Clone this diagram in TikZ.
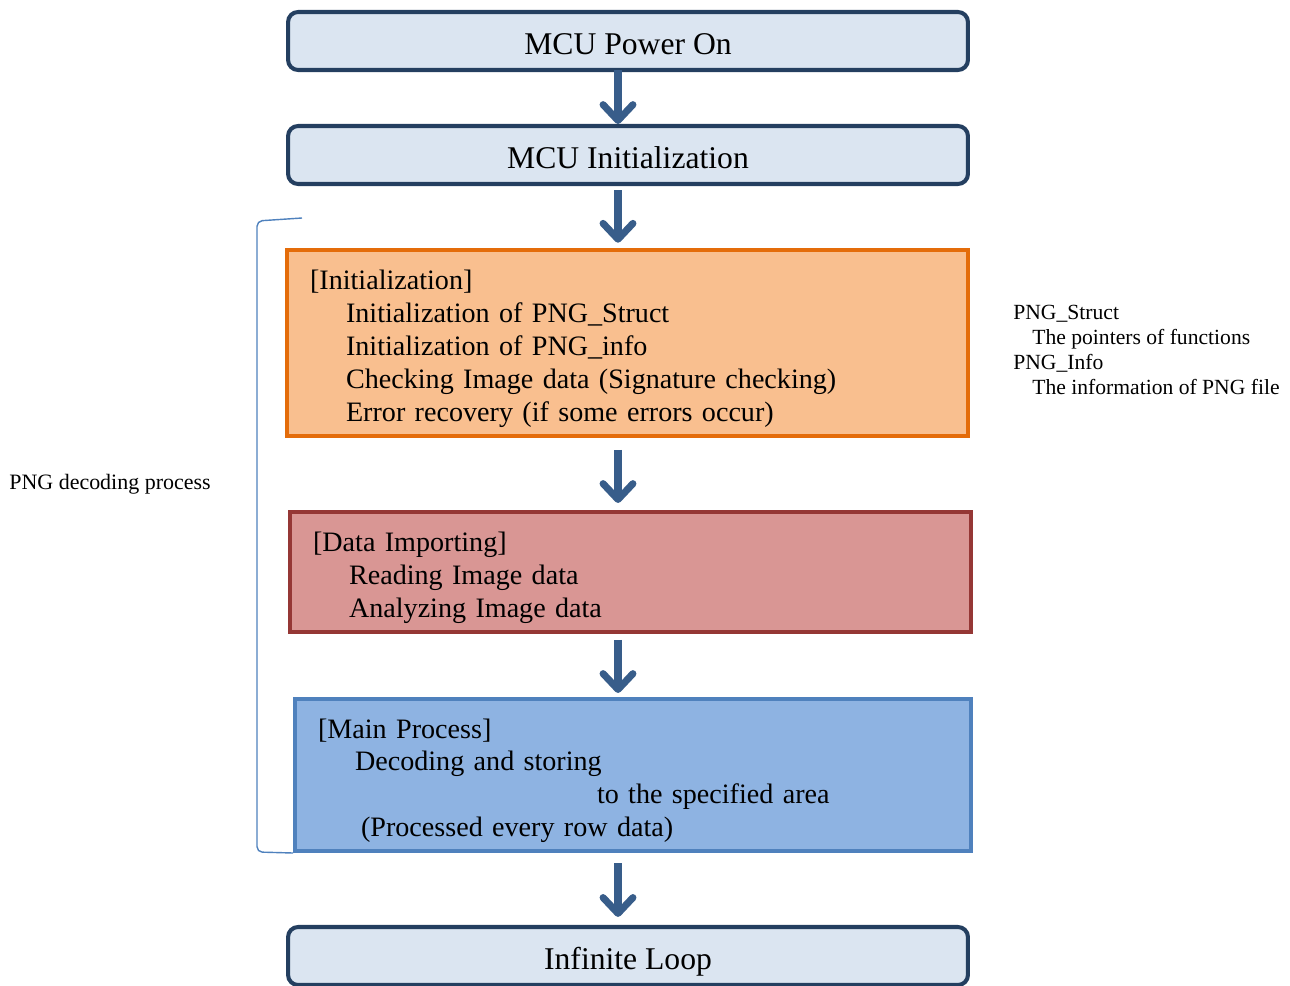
\documentclass[tikz,border=0pt]{standalone}
\usepackage{fontspec}
\setmainfont{Liberation Serif}
\usetikzlibrary{positioning,arrows.meta,calc}
\definecolor{navy}{HTML}{243F60}
\definecolor{pale}{HTML}{DBE5F1}
\definecolor{arw}{HTML}{385D8A}
\definecolor{orng}{HTML}{E46C0A}
\definecolor{orfill}{HTML}{F9BF8F}
\definecolor{brwn}{HTML}{953735}
\definecolor{rdfill}{HTML}{D99694}
\definecolor{blu}{HTML}{4F81BD}
\definecolor{blfill}{HTML}{8EB3E2}
\tikzstyle{mcu} = [draw=navy,fill=pale,line width=2.3pt,rounded corners=0.2cm,
                   minimum width=13.6cm,minimum height=1.16cm,
                   text height=17pt,text depth=1.6pt,
                   font=\fontsize{18}{21}\selectfont]
\tikzstyle{stage} = [line width=2.3pt,align=left,inner xsep=0.46cm,
                     font=\fontsize{16}{18.7}\selectfont]
\tikzstyle{flw} = [draw=arw,line width=4pt,-{Straight Barb[length=9pt,width=17pt,round]}]
\tikzstyle{note} = [align=left,inner sep=0,font=\fontsize{12.3}{14.2}\selectfont]

\begin{document}
\begin{tikzpicture}[
      x=0.02cm,
      y=-0.02cm]

     \useasboundingbox (0,0) rectangle (1290,986);
     \coordinate (ax) at (618,0);

     \node[mcu]   (pwr) at (628,41)  {MCU Power On};
     \node[mcu]   (ini) at (628,155) {MCU Initialization};
     \node[stage,draw=orng,fill=orfill,text width=12.7cm,minimum height=3.72cm]
                  (init) at (627.5,343)
        {\rule{0pt}{17.5pt}[Initialization]\\
         \hspace*{0.72cm}Initialization of PNG\_Struct\\
         \hspace*{0.72cm}Initialization of PNG\_info\\
         \hspace*{0.72cm}Checking Image data (Signature checking)\\
         \hspace*{0.72cm}Error recovery (if some errors occur)};
     \node[stage,draw=brwn,fill=rdfill,text width=12.7cm,minimum height=2.4cm]
                  (imp) at (630.5,572)
        {\rule{0pt}{17.5pt}[Data Importing]\\
         \hspace*{0.72cm}Reading Image data\\
         \hspace*{0.72cm}Analyzing Image data};
     \node[stage,draw=blu,fill=blfill,text width=12.6cm,minimum height=3.04cm]
                  (prc) at (633,775)
        {\rule{0pt}{17.5pt}[Main Process]\\
         \hspace*{0.74cm}Decoding and storing\\
         \hspace*{5.58cm}to the specified area\\
         \hspace*{0.86cm}(Processed every row data)};
     \node[mcu]   (lp)  at (628,956) {Infinite Loop};

     \path
       (pwr.south -| ax)  edge [flw,shorten <=-1pt,shorten >=0pt]     (ini.north -| ax)
       (ini.south -| ax)  edge [flw,shorten <=2.3pt,shorten >=3pt]    (init.north -| ax)
       (init.south -| ax) edge [flw,shorten <=6.8pt,shorten >=4pt]    (imp.north -| ax)
       (imp.south -| ax)  edge [flw,shorten <=3.4pt,shorten >=2.3pt]  (prc.north -| ax)
       (prc.south -| ax)  edge [flw,shorten <=5.7pt,shorten >=4.6pt]  (lp.north -| ax)
       ;

     % bracket round the decoding stages
     \draw[blu,line width=0.8pt,rounded corners=3pt]
       (302,218) -- (257,221) -- (257,852) -- (prc.south west);
     \node[note,font=\fontsize{12.5}{14.2}\selectfont] (dec) at (110,484) {PNG decoding process};
     \node[note,anchor=west] (info) at (1013,350)
        {PNG\_Struct\\
         \hspace*{0.38cm}The pointers of functions\\
         PNG\_Info\\
         \hspace*{0.38cm}The information of PNG file};

  \end{tikzpicture}
\end{document}
